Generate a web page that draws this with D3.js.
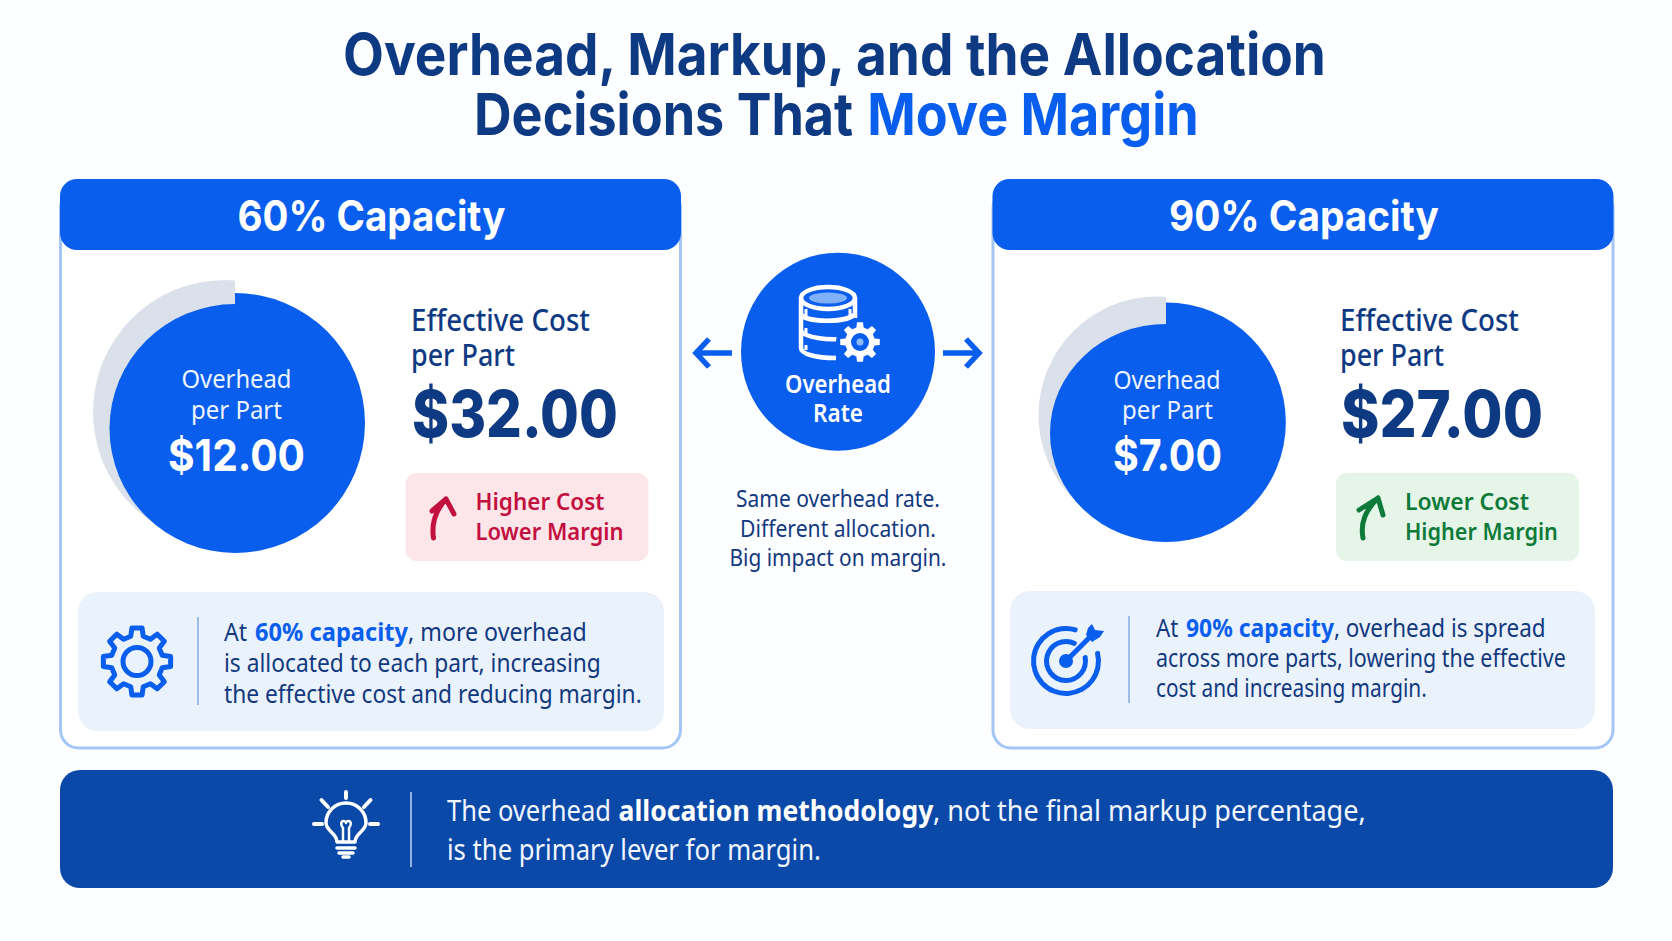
<!DOCTYPE html>
<html>
<head>
<meta charset="utf-8">
<script src="https://cdn.jsdelivr.net/npm/d3@7"></script>
<style>
html, body { margin: 0; padding: 0; background: #fff; }
svg { display: block; font-family: "Noto Sans", sans-serif; }
.display { font-family: Inter, "Noto Sans", sans-serif; }
</style>
</head>
<body>
<svg id="chart" width="1672" height="941"></svg>
<script>
// Values
var capacities = [60, 90];
var overheadPerPart = [12, 7];
var effectiveCost = [32, 27];
var badgeLines = [["Higher Cost", "Lower Margin"], ["Lower Cost", "Higher Margin"]];
var noteLines = [
    [["At ", ["60% capacity"], ", more overhead"], ["is allocated to each part, increasing"], ["the effective cost and reducing margin."]],
    [["At ", ["90% capacity"], ", overhead is spread"], ["across more parts, lowering the effective"], ["cost and increasing margin."]]
];
var centerLines = ["Same overhead rate.", "Different allocation.", "Big impact on margin."];

var NAVY = "#0e3a83", BLUE = "#0a5eee", BORDER = "#a3c6f6", GREY = "#dbe1ea";

var svg = d3.select("#chart");
var fmt = d3.format(".2f");

// Disc radius follows overhead per part
var radius = d3.scaleLinear().domain([7, 12]).range([119.8, 130]);

// Draws one line of text, squeezed horizontally to the measured width.
// An array inside parts is an emphasised run: [text, fill, dx, sizeFactor]
function label(parent, x, y, parts, size, weight, fill, width, anchor, cls) {
    var t = parent.append("text")
        .attr("class", cls || null)
        .attr("font-size", size)
        .attr("font-weight", weight)
        .attr("fill", fill);
    [].concat(parts).forEach(function (p) {
        var s = t.append("tspan");
        if (Array.isArray(p)) {
            s.text(p[0]).attr("font-weight", weight > 700 ? weight : 700).attr("fill", p[1] || BLUE)
                .attr("dx", p[2] || 0)
                .attr("font-size", size * (p[3] || 1));
        } else {
            s.text(p);
        }
    });
    var len = t.node().getComputedTextLength();
    var sx = width ? width / len : 1;
    var x0 = anchor === "middle" ? x - len * sx / 2 : x;
    t.attr("transform", "translate(" + x0 + "," + y + ") scale(" + sx + ",1)");
    return t;
}

// Closed gear outline as a radial line
function gearPath(teeth, outer, inner) {
    var pts = [], step = Math.PI * 2 / teeth;
    d3.range(teeth).forEach(function (i) {
        var a = i * step;
        pts.push([a - step * 0.19, outer]);
        pts.push([a + step * 0.19, outer]);
        pts.push([a + step * 0.31, inner]);
        pts.push([a + step * 0.69, inner]);
    });
    return d3.lineRadial().curve(d3.curveLinearClosed)(pts);
}

// Page background tint
svg.append("rect").attr("width", 1672).attr("height", 941).attr("fill", "#fdfeff");

// Title
label(svg, 343, 75, "Overhead, Markup, and the Allocation", 58, 700, NAVY, 983, null, "display");
label(svg, 474, 135, ["Decisions That ", ["Move Margin", BLUE, 2]], 58, 700, NAVY, 723, null, "display");

// Panel layouts
var panels = [
    {
        x: 60.5, w: 620,
        cy: 423, ellCy: 428.5, ellRy: 124.5, ellRx: 125.5, grey: [225, 412, 132], cut: 235,
        overhead: [[236.5, 110], [236.5, 91], [236.5, 137]], baseY: [388, 419, 471],
        costX: 411, costW: [179, 104, 206],
        badge: [405.5, 243, "#fde6ea", "#c4103f"], badgeTextX: 475.5, badgeW: [129, 148],
        arrow: "M433.5,538 C431,522 436,510 446,499 M432,511 L446,499 L454,514",
        note: [78, 586, 592, 139], divider: [198, 617, 705],
        noteX: 224, noteY: [641, 672, 703], noteW: [361, 377, 418]
    },
    {
        x: 993, w: 620,
        cy: 422.2, ellCy: 433, ellRy: 109, ellRx: 116, grey: [1157, 415, 118.5], cut: 1166,
        overhead: [[1167, 107], [1167.5, 91], [1167.5, 109]], baseY: [389, 419, 471],
        costX: 1340, costW: [179, 104, 202],
        badge: [1336, 243, "#e5f6e8", "#0e7a3a"], badgeTextX: 1405, badgeW: [124, 153],
        arrow: "M1363,538 C1360,522 1366,510 1378,498 M1359,510 L1378,498 L1383,515",
        note: [1010, 585, 591, 138], divider: [1129, 616, 703],
        noteX: 1156, noteY: [637, 667, 697], noteW: [388, 410, 271]
    }
];

panels.forEach(function (p, i) {
    var g = svg.append("g").attr("class", "panel");

    // Frame and header
    g.append("rect").attr("x", p.x).attr("y", 190).attr("width", p.w).attr("height", 558)
        .attr("rx", 18).attr("fill", "#fff").attr("stroke", BORDER).attr("stroke-width", 3);
    g.append("rect").attr("x", p.x - 0.5).attr("y", 179).attr("width", p.w + 1).attr("height", 71)
        .attr("rx", 17).attr("fill", BLUE);
    label(g, p.x + p.w / 2 + 1, 231, capacities[i] + "% Capacity", 42, 700, "#fff", i ? 270 : 268, "middle", "display");

    // Grey remainder, cut at twelve o'clock
    var clipId = "cut" + i;
    g.append("clipPath").attr("id", clipId).append("rect")
        .attr("x", 0).attr("y", 0).attr("width", p.cut).attr("height", 941);
    g.append("circle").attr("cx", p.grey[0]).attr("cy", p.grey[1]).attr("r", p.grey[2])
        .attr("fill", GREY).attr("clip-path", "url(#" + clipId + ")");

    // Blue disc: right half is round, left half is pulled in under the grey
    var r = radius(overheadPerPart[i]);
    g.append("path")
        .attr("transform", "translate(" + p.cut + "," + p.cy + ")")
        .attr("d", d3.arc()({ innerRadius: 0, outerRadius: r, startAngle: 0, endAngle: Math.PI }))
        .attr("fill", BLUE);
    g.append("path")
        .attr("transform", "translate(" + p.cut + "," + p.ellCy + ") scale(" + (p.ellRx / 100) + "," + (p.ellRy / 100) + ")")
        .attr("d", d3.arc()({ innerRadius: 0, outerRadius: 100, startAngle: Math.PI, endAngle: Math.PI * 2 }))
        .attr("fill", BLUE);

    // Disc text
    label(g, p.overhead[0][0], p.baseY[0], "Overhead", 26, 400, "#eef4ff", p.overhead[0][1], "middle");
    label(g, p.overhead[1][0], p.baseY[1], "per Part", 26, 400, "#eef4ff", p.overhead[1][1], "middle");
    label(g, p.overhead[2][0], p.baseY[2], "$" + fmt(overheadPerPart[i]), 44, 700, "#fff", p.overhead[2][1], "middle", "display");

    // Effective cost
    label(g, p.costX, 331, "Effective Cost", 30, 500, NAVY, p.costW[0]);
    label(g, p.costX, 366, "per Part", 30, 500, NAVY, p.costW[1]);
    label(g, p.costX + 1, 437, "$" + fmt(effectiveCost[i]), 64, 800, NAVY, p.costW[2], null, "display");

    // Badge
    g.append("rect").attr("x", p.badge[0]).attr("y", 473).attr("width", p.badge[1]).attr("height", 88)
        .attr("rx", 11).attr("fill", p.badge[2]);
    g.append("path").attr("d", p.arrow).attr("fill", "none").attr("stroke", p.badge[3])
        .attr("stroke-width", 5).attr("stroke-linecap", "round").attr("stroke-linejoin", "round");
    badgeLines[i].forEach(function (line, k) {
        label(g, p.badgeTextX, 510 + k * 30, line, 24, 600, p.badge[3], p.badgeW[k]);
    });

    // Note box
    g.append("rect").attr("x", p.note[0]).attr("y", p.note[2]).attr("width", p.note[1]).attr("height", p.note[3])
        .attr("rx", 20).attr("fill", "#eaf2fc");
    g.append("line").attr("x1", p.divider[0]).attr("x2", p.divider[0])
        .attr("y1", p.divider[1]).attr("y2", p.divider[2])
        .attr("stroke", "#9cbde8").attr("stroke-width", 2);
    noteLines[i].forEach(function (parts, k) {
        var runs = parts.map(function (s) { return Array.isArray(s) ? [s[0], BLUE, 2, 1.02] : s; });
        label(g, p.noteX, p.noteY[k], runs, 25, 400, "#12397f", p.noteW[k]);
    });
});

// Gear icon, left note
var noteGear = svg.append("g").attr("transform", "translate(137,661.5)")
    .attr("fill", "none").attr("stroke", BLUE).attr("stroke-width", 5).attr("stroke-linejoin", "round");
noteGear.append("path").attr("d", gearPath(8, 34, 26));
noteGear.append("circle").attr("r", 14);

// Target icon, right note
var target = svg.append("g").attr("transform", "translate(1066,661)")
    .attr("fill", "none").attr("stroke", BLUE).attr("stroke-width", 5).attr("stroke-linecap", "round");
target.append("path").attr("stroke", "none").attr("fill", BLUE)
    .attr("d", d3.arc().cornerRadius(2)({ innerRadius: 30, outerRadius: 35, startAngle: 1.26, endAngle: Math.PI * 2 + 0.36 }));
target.append("path").attr("stroke", "none").attr("fill", BLUE)
    .attr("d", d3.arc().cornerRadius(2)({ innerRadius: 17, outerRadius: 22, startAngle: 1.27, endAngle: Math.PI * 2 + 0.56 }));
target.append("circle").attr("r", 7).attr("fill", BLUE).attr("stroke", "none");
target.append("path").attr("d", "M0,0 L26,-26");
target.append("path").attr("stroke", "none").attr("fill", BLUE)
    .attr("d", "M20,-26 L22,-33 L26,-37 L29,-31 L38,-30 L34,-24 L26,-19 Z");

// Center node
var hub = svg.append("g");
hub.append("ellipse").attr("cx", 838).attr("cy", 351.7).attr("rx", 97).attr("ry", 99).attr("fill", BLUE);
hub.append("path")
    .attr("d", "M732,353 H697 M709,339 L696,353 L709,367 M943,353 H978 M966,339 L979,353 L966,367")
    .attr("fill", "none").attr("stroke", BLUE).attr("stroke-width", 5.5).attr("stroke-linejoin", "miter");

// Database icon
var db = hub.append("g").attr("transform", "translate(828,298)")
    .attr("fill", "none").attr("stroke", "#fff").attr("stroke-width", 4.5);
db.append("ellipse").attr("rx", 27).attr("ry", 11);
db.append("ellipse").attr("ry", 5.5).attr("rx", 19).attr("fill", "#7fb0f8").attr("stroke", "none");
db.append("path").attr("d", "M-27,0 V50 C-27,56 -12,60 8,60 M27,0 V20 M-27,16 C-23,25 20,25 27,16 M-27,33 C-22,40 0,42 12,41");
db.append("path").attr("d", "M-22,11 V20 M22,11 V20 M-22,30 V36 M-22,47 V52").attr("stroke-width", 3);
var cog = hub.append("g").attr("transform", "translate(860,342)");
cog.append("circle").attr("r", 24).attr("fill", BLUE);
cog.append("path").attr("d", gearPath(8, 20, 15)).attr("fill", "#fff");
cog.append("circle").attr("r", 9).attr("fill", BLUE);
cog.append("circle").attr("r", 3.5).attr("fill", "#8db9f9");

label(hub, 838, 393, "Overhead", 25, 600, "#fff", 106, "middle");
label(hub, 838, 422, "Rate", 25, 600, "#fff", 50, "middle");

var centerW = [204, 196, 217];
centerLines.forEach(function (line, k) {
    label(svg, 838, 507 + k * 29.5, line, 24, 400, "#12397f", centerW[k], "middle");
});

// Bottom banner
var banner = svg.append("g");
banner.append("rect").attr("x", 60).attr("y", 770).attr("width", 1553).attr("height", 118)
    .attr("rx", 20).attr("fill", "#0b49a8");
banner.append("line").attr("x1", 411).attr("x2", 411).attr("y1", 792).attr("y2", 867)
    .attr("stroke", "#8fb2e6").attr("stroke-width", 2);

var bulb = banner.append("g").attr("transform", "translate(346,824)")
    .attr("fill", "none").attr("stroke", "#fff").attr("stroke-width", 3.5)
    .attr("stroke-linecap", "round").attr("stroke-linejoin", "round");
bulb.append("path").attr("d", "M-9,18 C-9,9 -20,7 -20,-1 A20,20 0 1 1 20,-1 C20,7 9,9 9,18 Z");
bulb.append("path").attr("d", "M-3,18 V4 C-8,-3 -1,-5 0,-1 C1,-5 8,-3 3,4 V18").attr("stroke-width", 2.5);
bulb.append("path").attr("d", "M-9,24 H9 M-7,29 H7 M-3,33 H3");
bulb.append("path").attr("stroke-width", 4)
    .attr("d", "M0,-32 V-26 M-24.5,-24 L-18,-17 M24.5,-24 L18,-17 M-32,0 H-24 M24,0 H32");

// The three runs of the first line are set apart to keep their measured widths
label(banner, 447, 821, "The overhead", 29, 400, "#f2f6ff", 164);
label(banner, 618.5, 821, "allocation methodology", 29, 700, "#fff", 315);
label(banner, 933, 821, ", not the final markup percentage,", 29, 400, "#f2f6ff", 433);
label(banner, 447, 860, "is the primary lever for margin.", 29, 400, "#f2f6ff", 374);
</script>
</body>
</html>
